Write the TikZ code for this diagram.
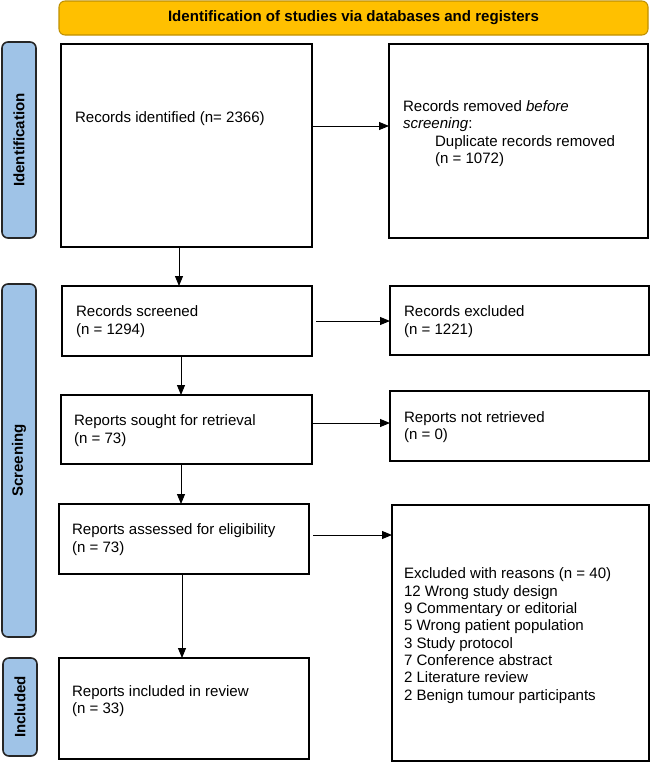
\documentclass[tikz,border=0pt]{standalone}
\usepackage{fontspec}
\setmainfont{Liberation Sans}
\usetikzlibrary{fit,calc,arrows.meta}
\definecolor{bannerfill}{HTML}{FFC000}
\definecolor{bannerdraw}{HTML}{BF9000}
\definecolor{barfill}{HTML}{9FC3E7}
\begin{document}
\begin{tikzpicture}[x=0.75pt,y=-0.75pt,
  box/.style={draw=black, line width=1.2pt, inner sep=0pt, outer sep=0pt, fill=white},
  txt/.style={inner sep=0pt, outer sep=0pt, align=left, font=\fontsize{11.3}{13.1}\selectfont},
  bar/.style={draw=black!85, line width=1.2pt, fill=barfill, rounded corners=4.5pt, inner sep=0pt, outer sep=0pt},
  barlabel/.style={rotate=90, font=\fontsize{11.3}{13.1}\selectfont\bfseries, inner sep=0pt},
  banner/.style={draw=bannerdraw, line width=0.8pt, fill=bannerfill, rounded corners=4.5pt, inner sep=0pt, outer sep=0pt},
  arr/.style={draw=black, line width=0.7pt, -{Triangle[length=7.5pt,width=6pt]}}
]
\useasboundingbox (0,0) rectangle (651,764);

% banner
\node[banner, fit={(59,1) (648,35)}] (banner) {};
\node[font=\fontsize{11.3}{13.1}\selectfont\bfseries, inner sep=0pt] (bannerT) at (banner.center) {Identification of studies via databases and registers};

% side bars
\node[bar, fit={(2,42) (36,238)}] (barI) {};
\node[barlabel] (barIT) at (barI.center) {Identification};
\node[bar, fit={(2,284) (36,637)}] (barS) {};
\node[barlabel] (barST) at (barS.center) {Screening};
\node[bar, fit={(3,658) (37,756)}] (barN) {};
\node[barlabel] (barNT) at (barN.center) {Included};

% left column boxes
\node[box, fit={(61,44) (312,247)}] (ident) {};
\node[txt, anchor=west] (identT) at (75,119) {Records identified (n= 2366)};

\node[box, fit={(62,286) (312,356)}] (screen) {};
\node[txt, anchor=west] (screenT) at (76,321.5) {Records screened\\(n = 1294)};

\node[box, fit={(61,395) (312,464)}] (sought) {};
\node[txt, anchor=west] (soughtT) at (74,430.5) {Reports sought for retrieval\\(n = 73)};

\node[box, fit={(59,504) (309,574)}] (assess) {};
\node[txt, anchor=west] (assessT) at (72,539.5) {Reports assessed for eligibility\\(n = 73)};

\node[box, fit={(59,658) (309,759)}] (incl) {};
\node[txt, anchor=west] (inclT) at (72,701) {Reports included in review\\(n = 33)};

% right column boxes
\node[box, fit={(389,44) (648,238)}] (removed) {};
\node[txt, anchor=west] (removedT) at (403,133.5) {Records removed \textit{before}\\\textit{screening}:\\\hspace*{24pt}Duplicate records removed\\\hspace*{24pt}(n = 1072)};

\node[box, fit={(390,286) (649,355)}] (excl) {};
\node[txt, anchor=west] (exclT) at (404,321.5) {Records excluded\\(n = 1221)};

\node[box, fit={(390,391) (649,461)}] (notret) {};
\node[txt, anchor=west] (notretT) at (404,427) {Reports not retrieved\\(n = 0)};

\node[box, fit={(392,505) (649,761)}] (reasons) {};
\node[txt, anchor=west, font=\fontsize{11.3}{13}\selectfont] (reasonsT) at (404,635.5) {Excluded with reasons (n = 40)\\12 Wrong study design\\9 Commentary or editorial\\5 Wrong patient population\\3 Study protocol\\7 Conference abstract\\2 Literature review\\2 Benign tumour participants};

% horizontal arrows
\draw[arr] ($(ident.north east)+(0,82)$) -- ($(removed.north west)+(0,82)$);
\draw[arr] ($(screen.north east)+(4,35)$) -- ($(excl.north west)+(0,35)$);
\draw[arr] ($(sought.north east)+(1,28)$) -- ($(notret.north west)+(0,32)$);
\draw[arr] ($(assess.north east)+(4,31)$) -- ($(reasons.north west)+(0,30)$);

% vertical arrows
\draw[arr] ($(ident.south west)+(118,0)$) -- ($(screen.north west)+(117,0)$);
\draw[arr] ($(screen.south west)+(119,0)$) -- ($(sought.north west)+(120,0)$);
\draw[arr] ($(sought.south west)+(120,0)$) -- ($(assess.north west)+(122,0)$);
\draw[arr] ($(assess.south west)+(123,0)$) -- ($(incl.north west)+(123,0)$);
\end{tikzpicture}
\end{document}
